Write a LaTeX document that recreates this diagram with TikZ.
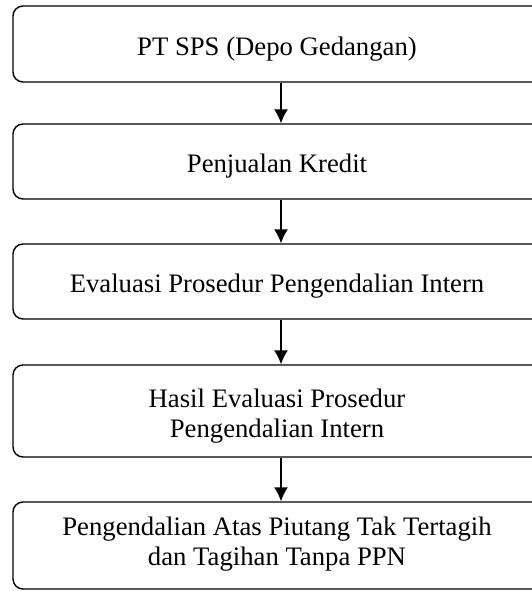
\documentclass[tikz,border=0pt]{standalone}
\usepackage{fontspec}
\setmainfont{Liberation Serif}
\usetikzlibrary{arrows.meta}
\begin{document}
\begin{tikzpicture}[x=1pt,y=-1pt]
    \tikzset{kotak/.style={draw, rounded corners=10pt, line width=1.4pt,
            minimum width=536pt, inner sep=0pt},
        isi/.style={align=center, xshift=-4pt, yshift=-5pt,
            font=\fontsize{26.7}{30}\selectfont},
        panah/.style={-{Latex[length=14pt,width=14pt]}, line width=1.4pt}}
    \useasboundingbox (0,0) rectangle (531,591);
    %Kotak
    \node[kotak, minimum height=76pt, label={[isi]center:PT SPS (Depo Gedangan)}]
        (ptsps) at (281,44) {};
    \node[kotak, minimum height=75pt, label={[isi]center:Penjualan Kredit}]
        (jual) at (281,161.5) {};
    \node[kotak, minimum height=75pt, label={[isi]center:Evaluasi Prosedur Pengendalian Intern}]
        (eval) at (281,281.5) {};
    \node[kotak, minimum height=92pt, label={[isi]center:Hasil Evaluasi Prosedur\\ Pengendalian Intern}]
        (hasil) at (281,411) {};
    \node[kotak, minimum height=87pt, label={[isi, yshift=6pt]center:Pengendalian Atas Piutang Tak Tertagih\\dan Tagihan Tanpa PPN}]
        (kendali) at (281,545.5) {};

    %Panah
    \draw[panah] (ptsps) -- (jual);
    \draw[panah] (jual) -- (eval);
    \draw[panah] (eval) -- (hasil);
    \draw[panah] (hasil) -- (kendali);
\end{tikzpicture}
\end{document}
